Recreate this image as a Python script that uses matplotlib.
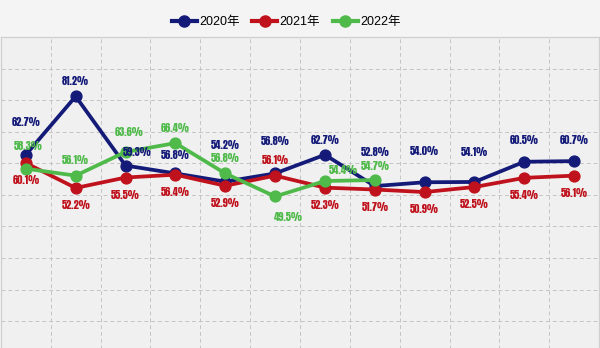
import matplotlib
matplotlib.use("Agg")
import matplotlib.pyplot as plt
from matplotlib.lines import Line2D
import numpy as np

# data
years = ["2020年", "2021年", "2022年"]
v2020 = [62.7, 81.2, 59.3, 56.8, 54.2, 56.8, 62.7, 52.8, 54.0, 54.1, 60.5, 60.7]
v2021 = [60.1, 52.2, 55.5, 56.4, 52.9, 56.1, 52.3, 51.7, 50.9, 52.5, 55.4, 56.1]
v2022 = [58.3, 56.1, 63.6, 66.4, 56.8, 49.5, 54.4, 54.7]

COLORS = ["#141a78", "#c0121c", "#4fba4a"]

# label offsets in pixels (dx, dy; dy up positive) -- layout only
off2020 = [(0, 33), (0, 15), (12, 14), (0, 18), (0, 37), (0, 32),
           (0, 15), (0, 34), (0, 31), (0, 30), (0, 22), (0, 21)]
off2021 = [(0, -17)] * 5 + [(0, 16)] + [(0, -17)] * 6
off2022 = [(2, 23), (0, 16), (4, 20), (0, 15), (0, 15), (13, -21), (18, 11), (0, 14)]

W, H = 600, 348
fig = plt.figure(figsize=(W / 100, H / 100), dpi=100)
fig.patch.set_facecolor("#f4f4f4")
top_px, bot_px = 37, 352.8
ax = fig.add_axes([0.0015, (H - bot_px) / H, 0.997, (bot_px - top_px) / H])
ax.set_facecolor("#f0f0f0")

label_font = ["Anton", "DejaVu Sans"]
for vals, col in zip([v2020, v2021, v2022], COLORS):
    x = np.arange(len(vals))
    ax.plot(x, vals, color=col, lw=2.7, marker="o", ms=7.8, mec=col, mfc=col, zorder=3)
for vals, col, offs in zip([v2020, v2021, v2022], COLORS, [off2020, off2021, off2022]):
    for i, v in enumerate(vals):
        ax.annotate(f"{v:.1f}%", (i, v), xytext=offs[i], textcoords="offset pixels",
                    ha="center", va="center", fontsize=7.5,
                    family=label_font, color=col, zorder=5)

ax.set_xlim(-0.5, 11.5)
ax.set_ylim(0, 100)
ax.set_xticks(np.arange(0.5, 11, 1.0))
ax.set_yticks(np.arange(10, 100, 10))
ax.tick_params(length=0, labelbottom=False, labelleft=False)
ax.grid(True, ls=(0, (4, 3)), color="#c4c4c4", lw=0.7)
for sp in ax.spines.values():
    sp.set_color("#cfcfcf")
    sp.set_linewidth(0.9)

handles = [Line2D([], [], color=c, lw=3, marker="o", ms=8) for c in COLORS]
fig.legend(handles, years, loc="center", bbox_to_anchor=(286 / W, 1 - 22 / H), ncol=3,
           frameon=False, handlelength=2.0, handletextpad=0.2, columnspacing=1.0,
           prop={"family": ["Liberation Sans", "Noto Sans CJK SC"], "size": 9})

fig.savefig("out.png", dpi=100, facecolor=fig.get_facecolor())
